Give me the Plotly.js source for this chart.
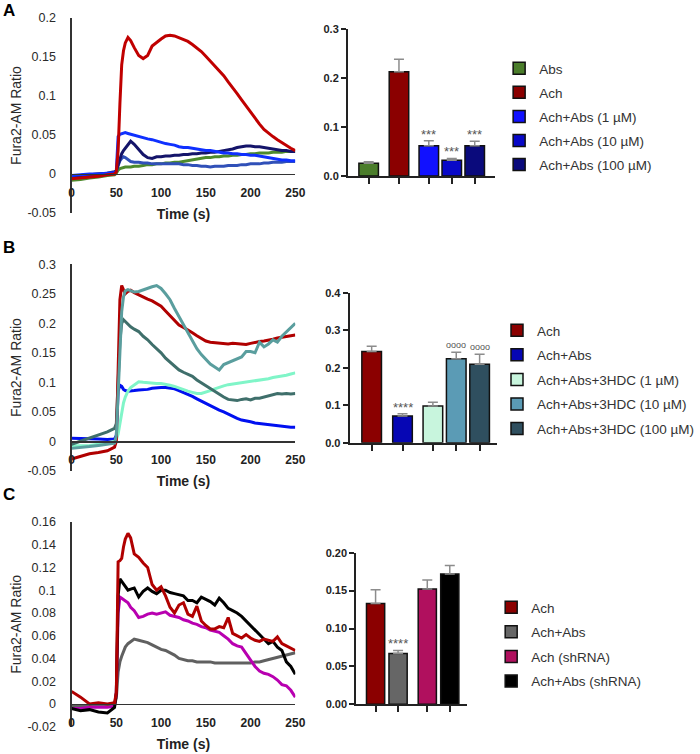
<!DOCTYPE html>
<html><head><meta charset="utf-8">
<script src="https://cdn.plot.ly/plotly-3.0.1.min.js"></script>
<style>html,body{margin:0;padding:0;background:#fff}#chart{width:700px;height:754px}</style>
</head><body><div id="chart"></div>
<script>
// ---------- DATA ----------
const timeSec = [0,10,20,30,40,48, 50,52,54,56,58,60, 63,66, 70,75,80,85,90,95,100,105,110,115, 120,125,130,135,140,145,150,155,160,165, 170,175,180,185,190,195,200,205,210,215, 220,225,230,235,240,245,250];

// Panel A traces
const lineA_Abs = [-0.008,-0.007,-0.005,-0.004,-0.002,-0.001, 0.001,0.005,0.007,0.008,0.008,0.009, 0.009,0.009, 0.010,0.010,0.011,0.012,0.012,0.013,0.013,0.014,0.014,0.015, 0.015,0.016,0.017,0.018,0.019,0.020,0.021,0.021,0.022,0.022, 0.023,0.023,0.024,0.024,0.025,0.025,0.026,0.026,0.027,0.027, 0.027,0.028,0.028,0.028,0.029,0.029,0.029];
const lineA_Ach = [-0.006,-0.005,-0.004,-0.003,-0.001,0.000, 0.003,0.030,0.090,0.140,0.158,0.168, 0.175,0.171, 0.162,0.152,0.148,0.152,0.164,0.169,0.173,0.177,0.178,0.177, 0.175,0.172,0.170,0.166,0.162,0.157,0.151,0.145,0.139,0.132, 0.126,0.118,0.111,0.103,0.095,0.087,0.079,0.071,0.064,0.057, 0.052,0.048,0.044,0.040,0.036,0.033,0.030];
const lineA_Abs1 = [-0.002,-0.001,0.000,0.000,0.001,0.002, 0.004,0.048,0.051,0.052,0.053,0.053, 0.052,0.051, 0.050,0.048,0.047,0.045,0.044,0.042,0.041,0.039,0.038,0.037, 0.035,0.034,0.034,0.033,0.032,0.031,0.030,0.030,0.029,0.028, 0.027,0.027,0.026,0.026,0.025,0.025,0.024,0.024,0.023,0.022, 0.021,0.020,0.019,0.018,0.018,0.017,0.017];
const lineA_Abs10 = [-0.003,-0.002,-0.001,0.000,0.000,0.002, 0.004,0.012,0.017,0.020,0.022,0.021, 0.018,0.016, 0.015,0.015,0.014,0.014,0.013,0.013,0.013,0.013,0.013,0.013, 0.013,0.012,0.012,0.011,0.011,0.010,0.010,0.009,0.010,0.010, 0.010,0.011,0.011,0.011,0.012,0.012,0.013,0.013,0.013,0.014, 0.014,0.015,0.015,0.015,0.016,0.016,0.016];
const lineA_Abs100 = [-0.003,-0.002,-0.001,0.000,0.001,0.003, 0.004,0.012,0.020,0.026,0.030,0.033, 0.038,0.042, 0.038,0.031,0.025,0.021,0.020,0.022,0.022,0.023,0.023,0.024, 0.024,0.025,0.025,0.026,0.026,0.027,0.027,0.028,0.028,0.029, 0.030,0.031,0.032,0.034,0.035,0.036,0.036,0.035,0.035,0.034, 0.033,0.032,0.031,0.030,0.030,0.029,0.029];

// Panel B traces
const lineB_Ach = [-0.030,-0.025,-0.021,-0.019,-0.016,-0.010, 0.000,0.120,0.240,0.264,0.258,0.250, 0.254,0.256, 0.252,0.248,0.245,0.241,0.238,0.234,0.229,0.221,0.213,0.205, 0.197,0.193,0.189,0.184,0.179,0.174,0.170,0.168,0.167,0.166, 0.166,0.165,0.166,0.165,0.164,0.164,0.166,0.168,0.169,0.170, 0.171,0.173,0.175,0.176,0.178,0.179,0.180];
const lineB_AchAbs = [0.005,0.005,0.004,0.004,0.003,0.004, 0.010,0.085,0.095,0.093,0.088,0.086, 0.085,0.085, 0.086,0.087,0.087,0.088,0.090,0.091,0.091,0.091,0.090,0.089, 0.086,0.083,0.079,0.076,0.072,0.068,0.064,0.060,0.057,0.053, 0.050,0.046,0.042,0.039,0.036,0.035,0.033,0.031,0.030,0.029, 0.028,0.027,0.026,0.025,0.025,0.024,0.024];
const lineB_HDC1 = [-0.008,-0.008,-0.007,-0.005,-0.003,0.000, 0.003,0.012,0.030,0.050,0.065,0.075, 0.085,0.091, 0.096,0.101,0.100,0.099,0.099,0.098,0.098,0.097,0.095,0.093, 0.090,0.088,0.085,0.083,0.081,0.081,0.083,0.086,0.089,0.092, 0.094,0.096,0.097,0.099,0.100,0.101,0.102,0.103,0.104,0.105, 0.106,0.108,0.109,0.110,0.112,0.114,0.116];
const lineB_HDC10 = [-0.012,-0.011,-0.009,-0.007,-0.005,-0.003, 0.010,0.080,0.160,0.220,0.245,0.255, 0.257,0.255, 0.253,0.254,0.257,0.260,0.262,0.264,0.259,0.250,0.240,0.225, 0.211,0.197,0.183,0.170,0.157,0.147,0.139,0.131,0.126,0.121, 0.130,0.133,0.137,0.139,0.143,0.152,0.152,0.150,0.168,0.160, 0.165,0.172,0.168,0.178,0.185,0.193,0.200];
const lineB_HDC100 = [-0.005,0.000,0.005,0.010,0.016,0.022, 0.030,0.100,0.170,0.200,0.206,0.203, 0.198,0.194, 0.190,0.186,0.178,0.172,0.164,0.157,0.150,0.141,0.134,0.127, 0.121,0.117,0.113,0.110,0.104,0.099,0.095,0.090,0.085,0.080, 0.075,0.071,0.070,0.069,0.071,0.072,0.070,0.073,0.073,0.075, 0.078,0.079,0.081,0.080,0.081,0.080,0.081];

// Panel C traces
const lineC_Ach = [0.011,0.006,0.000,0.001,0.000,0.001, 0.010,0.125,0.126,0.128,0.138,0.145, 0.150,0.146, 0.132,0.129,0.124,0.120,0.105,0.100,0.103,0.095,0.085,0.080, 0.087,0.089,0.079,0.077,0.086,0.073,0.069,0.066,0.066,0.068, 0.067,0.076,0.062,0.060,0.058,0.061,0.058,0.056,0.055,0.057, 0.056,0.055,0.059,0.053,0.051,0.049,0.047];
const lineC_AchAbs = [-0.002,-0.002,-0.001,-0.001,-0.001,0.000, 0.005,0.028,0.037,0.042,0.046,0.050, 0.053,0.055, 0.057,0.056,0.055,0.054,0.052,0.050,0.048,0.047,0.045,0.043, 0.040,0.039,0.038,0.038,0.037,0.037,0.037,0.037,0.036,0.036, 0.036,0.036,0.036,0.036,0.036,0.036,0.036,0.037,0.037,0.038, 0.039,0.040,0.041,0.042,0.043,0.044,0.045];
const lineC_shAch = [-0.004,-0.004,-0.003,-0.003,-0.003,-0.002, 0.010,0.080,0.094,0.093,0.092,0.091, 0.089,0.085, 0.082,0.076,0.077,0.079,0.080,0.079,0.080,0.081,0.078,0.077, 0.076,0.074,0.073,0.071,0.070,0.068,0.067,0.065,0.064,0.063, 0.060,0.057,0.053,0.051,0.050,0.044,0.039,0.033,0.029,0.027, 0.026,0.024,0.021,0.017,0.016,0.012,0.006];
const lineC_shAchAbs = [-0.004,-0.006,-0.005,-0.007,-0.008,-0.003, 0.010,0.095,0.110,0.108,0.105,0.103, 0.100,0.101, 0.102,0.094,0.099,0.102,0.099,0.097,0.100,0.100,0.098,0.097, 0.096,0.095,0.091,0.091,0.089,0.094,0.092,0.090,0.087,0.093, 0.089,0.084,0.082,0.080,0.077,0.073,0.069,0.065,0.061,0.057, 0.053,0.055,0.050,0.047,0.037,0.033,0.026];

// Bar charts
const barA_labels = ['Abs','Ach','Ach+Abs (1 µM)','Ach+Abs (10 µM)','Ach+Abs (100 µM)'];
const barA_means = [0.026,0.213,0.062,0.032,0.062];
const barA_sem = [0.003,0.026,0.010,0.004,0.009];
const barA_sig = ['','','***','***','***'];

const barB_labels = ['Ach','Ach+Abs','Ach+Abs+3HDC (1 µM)','Ach+Abs+3HDC (10 µM)','Ach+Abs+3HDC (100 µM)'];
const barB_means = [0.243,0.071,0.098,0.224,0.209];
const barB_sem = [0.014,0.006,0.010,0.017,0.027];
const barB_sig = ['','****','','oooo','oooo'];

const barC_labels = ['Ach','Ach+Abs','Ach (shRNA)','Ach+Abs (shRNA)'];
const barC_means = [0.133,0.067,0.152,0.172];
const barC_sem = [0.018,0.004,0.012,0.011];
const barC_sig = ['','****','',''];

// Tick labels
const tickA_vals = [-0.05,0,0.05,0.1,0.15,0.2];
const tickA_text = ['-0.05','0','0.05','0.1','0.15','0.2'];
const tickB_vals = [-0.05,0,0.05,0.1,0.15,0.2,0.25,0.3];
const tickB_text = ['-0.05','0','0.05','0.1','0.15','0.2','0.25','0.3'];
const tickC_vals = [-0.02,0,0.02,0.04,0.06,0.08,0.1,0.12,0.14,0.16];
const tickC_text = ['-0.02','0','0.02','0.04','0.06','0.08','0.1','0.12','0.14','0.16'];
const timeTicks = [0,50,100,150,200,250];

// ---------- STYLE / LAYOUT ----------
const W = 700, H = 754;
const fx = p => p / W;
const fy = p => 1 - p / H;
const SANS = "'Liberation Sans', Arial, sans-serif";

const slotsA = [0, 1.32, 2.62, 3.62, 4.62];
const slotsB = [0, 1.32, 2.62, 3.62, 4.62];
const slotsC = [0, 1, 2.3, 3.3];

const colA_bar = ['#4b7d2b','#8b0000','#1111ff','#0808c8','#0a0a7c'];
const colB_bar = ['#8b0000','#0606b4','#c8f5dd','#5b9bb5','#2f4f5f'];
const colC_bar = ['#8b0000','#666666','#b0105e','#000000'];

const traces = [];
function addLine(y, color, xa, ya) {
  traces.push({type:'scatter', mode:'lines', x: timeSec, y: y, xaxis: xa, yaxis: ya,
    line:{color: color, width: 3}, showlegend:false, hoverinfo:'skip'});
}
addLine(lineA_Abs, '#4d8a2c', 'x', 'y');
addLine(lineA_Abs10, '#3050b8', 'x', 'y');
addLine(lineA_Abs100, '#14146a', 'x', 'y');
addLine(lineA_Abs1, '#0f30ff', 'x', 'y');
addLine(lineA_Ach, '#c00000', 'x', 'y');

addLine(lineB_AchAbs, '#0010f0', 'x3', 'y3');
addLine(lineB_HDC1, '#80f5c8', 'x3', 'y3');
addLine(lineB_HDC100, '#3f6f6b', 'x3', 'y3');
addLine(lineB_Ach, '#b00000', 'x3', 'y3');
addLine(lineB_HDC10, '#5a9e9e', 'x3', 'y3');

addLine(lineC_AchAbs, '#606060', 'x5', 'y5');
addLine(lineC_shAch, '#b800b0', 'x5', 'y5');
addLine(lineC_shAchAbs, '#000000', 'x5', 'y5');
addLine(lineC_Ach, '#b00000', 'x5', 'y5');

const annotations = [];
function addBars(labels, means, sem, sig, slots, colors, width, xa, ya, leg, prefix) {
  labels.forEach((lab, i) => {
    traces.push({type:'bar', x:[slots[i]], y:[means[i]], width:[width], xaxis: xa, yaxis: ya,
      name: lab, legend: leg, legendgroup: prefix + i, showlegend: true, hoverinfo:'skip',
      marker:{color: colors[i], line:{color:'#111', width:1.5}},
      error_y:{type:'data', symmetric:false, array:[sem[i]], arrayminus:[0], color:'#8c8c8c', thickness:1.5, width:5}
    });
    if (sig[i]) {
      annotations.push({xref: xa, yref: ya, x: slots[i], y: means[i] + sem[i], text: sig[i],
        showarrow:false, yanchor:'bottom', yshift: sig[i][0] === 'o' ? 0 : -3,
        font:{family: SANS, size: sig[i][0] === 'o' ? 9 : 13, color:'#555'}});
    }
  });
}
addBars(barA_labels, barA_means, barA_sem, barA_sig, slotsA, colA_bar, 0.85, 'x2', 'y2', 'legend', 'a');
addBars(barB_labels, barB_means, barB_sem, barB_sig, slotsB, colB_bar, 0.84, 'x4', 'y4', 'legend2', 'b');
addBars(barC_labels, barC_means, barC_sem, barC_sig, slotsC, colC_bar, 0.81, 'x6', 'y6', 'legend3', 'c');

[['A', 11], ['B', 248], ['C', 495]].forEach(([t, py]) => {
  annotations.push({xref:'paper', yref:'paper', x: fx(9), y: fy(py), text: '<b>' + t + '</b>',
    showarrow:false, xanchor:'center', yanchor:'middle', font:{family: SANS, size: 17, color:'#000'}});
});

function lineX(left, right, zeroPy) {
  return {domain:[fx(left), fx(right)], range:[0, 250], anchor:'free', position: fy(zeroPy),
    showline:true, linecolor:'#333', linewidth:1.2, showgrid:false, zeroline:false,
    tickvals: timeTicks, ticks:'', ticklabelstandoff: 7,
    tickfont:{family: SANS, size: 12, color:'#222', weight: 700},
    title:{text:'Time (s)', font:{family: SANS, size: 14, color:'#222', weight: 700}, standoff: 10},
    fixedrange:true};
}
function lineY(bottom, top, range, vals, text, xa) {
  return {domain:[fy(bottom), fy(top)], range: range, anchor: xa,
    showline:true, linecolor:'#333', linewidth:1.2, showgrid:false, zeroline:false,
    tickvals: vals, ticktext: text, ticks:'', ticklabelstandoff: 12,
    tickfont:{family: SANS, size: 12.5, color:'#2a2a2a'},
    title:{text:'Fura2-AM Ratio', font:{family: SANS, size: 14, color:'#2a2a2a'}, standoff: 2},
    fixedrange:true};
}
function barX(left, right, range, slots, ya) {
  return {domain:[fx(left), fx(right)], range: range, anchor: ya,
    showline:true, linecolor:'#222', linewidth:2, showgrid:false, zeroline:false,
    tickvals: slots, ticks:'outside', ticklen:6, tickwidth:2, tickcolor:'#222', showticklabels:false,
    fixedrange:true};
}
function barY(bottom, top, range, dtick, fmt, xa) {
  return {domain:[fy(bottom), fy(top)], range: range, anchor: xa,
    showline:true, linecolor:'#222', linewidth:2, showgrid:false, zeroline:false,
    tick0: 0, dtick: dtick, tickformat: fmt, ticks:'outside', ticklen:5, tickwidth:2, tickcolor:'#222',
    tickfont:{family: SANS, size: 11, color:'#222', weight: 700},
    fixedrange:true};
}
function legendAt(left, top, gap) {
  return {x: fx(left), y: fy(top), xanchor:'left', yanchor:'top', bgcolor:'rgba(0,0,0,0)',
    traceorder:'grouped', tracegroupgap: gap, font:{family: SANS, size: 13.5, color:'#333'}};
}

const layout = {
  width: W, height: H, margin:{l:0, r:0, t:0, b:0},
  paper_bgcolor:'#fff', plot_bgcolor:'rgba(0,0,0,0)',
  barmode:'overlay', showlegend:true,
  xaxis: lineX(72, 297, 174),
  yaxis: lineY(213, 18, [-0.05, 0.2], tickA_vals, tickA_text, 'x'),
  xaxis2: barX(350, 498, [-0.9, 5.51], slotsA, 'y2'),
  yaxis2: barY(176, 29.3, [0, 0.3], 0.1, '.1f', 'x2'),
  xaxis3: lineX(72, 297, 441.3),
  yaxis3: lineY(470.8, 264.3, [-0.05, 0.3], tickB_vals, tickB_text, 'x3'),
  xaxis4: barX(351.7, 500, [-0.94, 5.37], slotsB, 'y4'),
  yaxis4: barY(442.7, 292.7, [0, 0.4], 0.1, '.1f', 'x4'),
  xaxis5: lineX(72, 297, 704),
  yaxis5: lineY(726.7, 522, [-0.02, 0.16], tickC_vals, tickC_text, 'x5'),
  xaxis6: barX(358.3, 470, [-0.86, 4.08], slotsC, 'y6'),
  yaxis6: barY(704.3, 552.7, [0, 0.2], 0.05, '.2f', 'x6'),
  legend: legendAt(502, 53, 3.5),
  legend2: legendAt(500, 315, 4),
  legend3: legendAt(494, 592, 4),
  annotations: annotations
};

Plotly.newPlot('chart', traces, layout, {displayModeBar:false, staticPlot:true});
</script>
</body></html>
